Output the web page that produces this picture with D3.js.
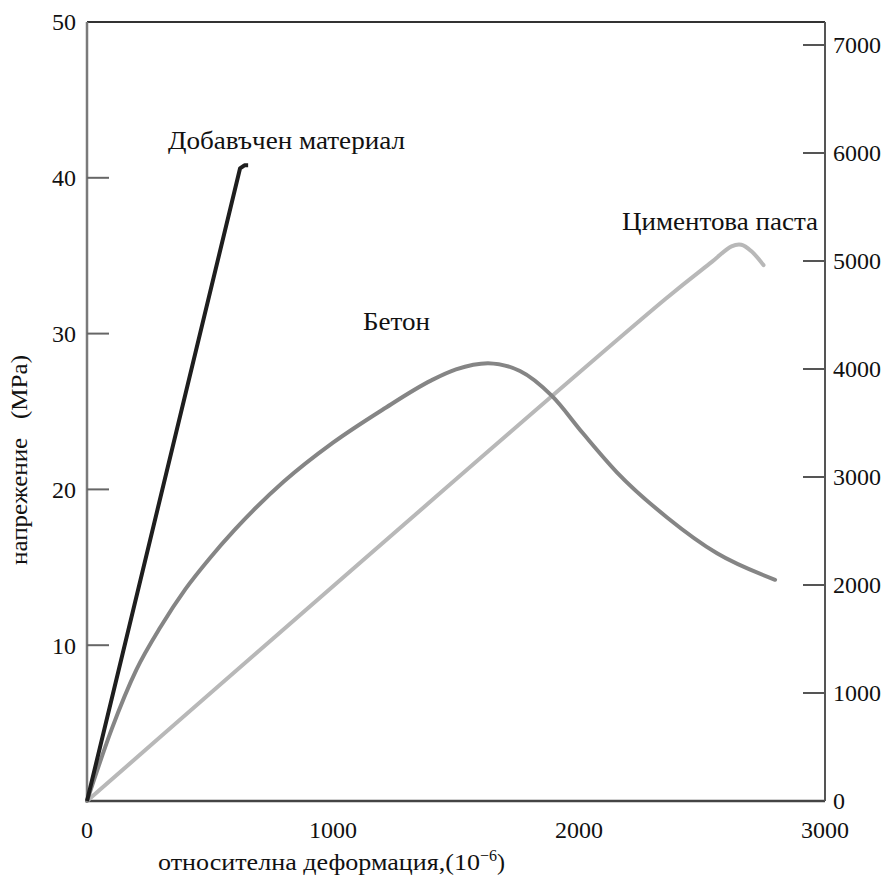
<!DOCTYPE html>
<html>
<head>
<meta charset="utf-8">
<script src="https://cdnjs.cloudflare.com/ajax/libs/d3/7.8.5/d3.min.js"></script>
<style>
  body { margin: 0; background: #fff; }
  text { font-family: "Liberation Serif", "DejaVu Serif", serif; fill: #111; }
</style>
</head>
<body>
<div id="chart"></div>
<script>
// strain in 1e-6, stress in MPa
const aggregate = [[0, 0], [622, 40.6], [640, 40.8], [655, 40.8]]
const concrete = [[0, 0], [100, 4.6], [200, 8.4], [300, 11.2], [400, 13.6], [500, 15.6],
  [600, 17.4], [800, 20.5], [1000, 23.0], [1200, 25.1], [1400, 27.0], [1500, 27.7],
  [1630, 28.1], [1760, 27.6], [1890, 26.0], [2016, 23.6], [2154, 21.1], [2358, 18.2],
  [2561, 15.9], [2797, 14.2]]
const paste = [[0, 0], [2350, 32.2], [2540, 34.6], [2620, 35.6], [2660, 35.7],
  [2700, 35.3], [2750, 34.4]]

const xTicks = [0, 1000, 2000, 3000]
const yTicks = [10, 20, 30, 40, 50]
const psiTicks = [1000, 2000, 3000, 4000, 5000, 6000, 7000]
const psiLabels = [0, 1000, 2000, 3000, 4000, 5000, 6000, 7000]

const width = 891,
      height = 881

const svg = d3.select('#chart')
  .append('svg')
  .attr('width', width)
  .attr('height', height)

const x = d3.scaleLinear().domain([0, 3000]).range([87, 825])
const y = d3.scaleLinear().domain([0, 50]).range([801, 22])
const yPsi = d3.scaleLinear().domain([0, 7000]).range([801, 45])

// frame
svg.append('line').attr('x1', x(0)).attr('x2', x(3000)).attr('y1', y(50)).attr('y2', y(50))
  .attr('stroke', '#333').attr('stroke-width', 2)
svg.append('line').attr('x1', x(0)).attr('x2', x(3000)).attr('y1', y(0)).attr('y2', y(0))
  .attr('stroke', '#444').attr('stroke-width', 2.5)
svg.append('line').attr('x1', x(0)).attr('x2', x(0)).attr('y1', y(50)).attr('y2', y(0))
  .attr('stroke', '#7a7a7a').attr('stroke-width', 2.5)
svg.append('line').attr('x1', x(3000)).attr('x2', x(3000)).attr('y1', y(50)).attr('y2', y(0))
  .attr('stroke', '#555').attr('stroke-width', 2)

// left ticks (inward)
svg.selectAll('.ltick').data(yTicks.filter(d => d < 50)).enter().append('line')
  .attr('x1', x(0)).attr('x2', x(0) + 22)
  .attr('y1', d => y(d)).attr('y2', d => y(d))
  .attr('stroke', '#666').attr('stroke-width', 2)
svg.selectAll('.llab').data(yTicks).enter().append('text')
  .attr('x', 76).attr('y', d => y(d))
  .attr('dy', '0.35em').attr('text-anchor', 'end')
  .attr('font-size', 24)
  .text(d => d)

// right ticks (inward)
svg.selectAll('.rtick').data(psiTicks).enter().append('line')
  .attr('x1', x(3000) - 22).attr('x2', x(3000))
  .attr('y1', d => yPsi(d)).attr('y2', d => yPsi(d))
  .attr('stroke', '#555').attr('stroke-width', 2)
svg.selectAll('.rlab').data(psiLabels).enter().append('text')
  .attr('x', 833).attr('y', d => yPsi(d))
  .attr('dy', '0.35em')
  .attr('font-size', 24)
  .text(d => d)

// bottom labels
svg.selectAll('.xlab').data(xTicks).enter().append('text')
  .attr('x', d => x(d)).attr('y', 830)
  .attr('dy', '0.35em').attr('text-anchor', 'middle')
  .attr('font-size', 24)
  .text(d => d)

const line = d3.line()
  .x(d => x(d[0]))
  .y(d => y(d[1]))

svg.append('path').datum(paste)
  .attr('d', line.curve(d3.curveCatmullRom.alpha(0.5)))
  .attr('fill', 'none').attr('stroke', '#b8b8b8').attr('stroke-width', 4)
  .attr('stroke-linecap', 'round')

svg.append('path').datum(concrete)
  .attr('d', line.curve(d3.curveMonotoneX))
  .attr('fill', 'none').attr('stroke', '#858585').attr('stroke-width', 4)
  .attr('stroke-linecap', 'round')

svg.append('path').datum(aggregate)
  .attr('d', line.curve(d3.curveLinear))
  .attr('fill', 'none').attr('stroke', '#1e1e1e').attr('stroke-width', 4)
  .attr('stroke-linejoin', 'round')

// series labels
svg.append('text').attr('x', 168).attr('y', 149).attr('font-size', 25)
  .attr('textLength', 237).attr('lengthAdjust', 'spacingAndGlyphs')
  .text('Добавъчен материал')
svg.append('text').attr('x', 622).attr('y', 230).attr('font-size', 25)
  .attr('textLength', 196).attr('lengthAdjust', 'spacingAndGlyphs')
  .text('Циментова паста')
svg.append('text').attr('x', 363).attr('y', 330).attr('font-size', 25)
  .attr('textLength', 67).attr('lengthAdjust', 'spacingAndGlyphs')
  .text('Бетон')

// axis titles
svg.append('text')
  .attr('transform', 'translate(27,460) rotate(-90)')
  .attr('text-anchor', 'middle').attr('font-size', 24)
  .attr('textLength', 210).attr('lengthAdjust', 'spacingAndGlyphs')
  .attr('xml:space', 'preserve')
  .text('напрежение   (MPa)')

const xt = svg.append('text').attr('x', 158).attr('y', 870).attr('font-size', 24)
xt.append('tspan').attr('textLength', 322).attr('lengthAdjust', 'spacingAndGlyphs')
  .text('относителна деформация,(10')
xt.append('tspan').attr('font-size', 16).attr('dy', -9).text('−6')
xt.append('tspan').attr('dy', 9).text(')')
</script>
</body>
</html>
